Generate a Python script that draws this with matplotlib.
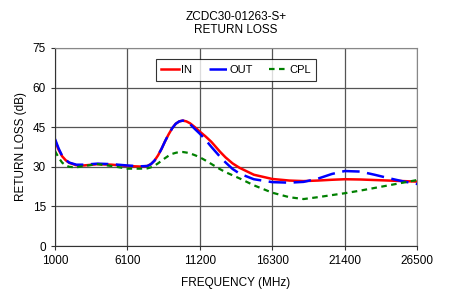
import matplotlib
matplotlib.use("Agg")
import matplotlib.pyplot as plt

plt.rcParams['font.family'] = ['Liberation Sans', 'DejaVu Sans']

# frequency points (MHz)
freq = [1000, 1250, 1500, 1750, 2000, 2500, 3000, 4000, 5000, 6100, 7000,
        7500, 7750, 8000, 8250, 8500, 8750, 9000, 9250, 9500, 9750, 10000,
        10250, 10500, 10850, 11200, 11600, 12000, 12620, 13000, 13500,
        14000, 15000, 16300, 17500, 18500, 19500, 20500, 21400, 22500,
        23500, 24500, 25500, 26500]

rl_in = [40, 36.5, 34, 32.5, 31.5, 30.6, 30.5, 31, 30.8, 30.3, 30.1,
         30.3, 31, 32.3, 34.3, 36.8, 39.7, 42.3, 44.6, 46.3, 47.2, 47.5,
         47.2, 46.5, 45, 43.3, 41.5, 39.5, 35.7, 33.6, 31.3,
         29.6, 27, 25.4, 24.8, 24.6, 24.8, 25.1, 25.3, 25.2,
         25, 24.8, 24.6, 24.4]

rl_out = [40.5, 37, 34.2, 32.6, 31.6, 30.8, 30.8, 31.2, 31, 30.5, 30.2,
          30.3, 31, 32.3, 34.3, 36.8, 39.7, 42.3, 44.6, 46.3, 47.2, 47.5,
          47.1, 46.2, 44.3, 42.5, 40.2, 37.6, 33.8, 31.7, 29.2,
          27.4, 25.3, 24.2, 24, 24.3, 25.5, 27.3, 28.4, 28.2,
          27, 25.7, 24.5, 23.5]

rl_cpl = [36, 33.5, 31.6, 30.5, 30, 29.8, 30.3, 31, 30.3, 29.3, 29.3,
          29.4, 29.8, 30.4, 31.3, 32.3, 33.3, 34.2, 34.9, 35.3, 35.6, 35.6,
          35.4, 35.1, 34.4, 33.6, 32.4, 31.1, 29.1, 28, 26.8,
          25.6, 23, 20.2, 18.5, 17.8, 18.5, 19.3, 20, 21,
          22, 23, 24, 25]

xticks = [1000, 6100, 11200, 16300, 21400, 26500]
yticks = [0, 15, 30, 45, 60, 75]

fig = plt.figure(figsize=(4.51, 2.94), dpi=100)
ax = fig.add_axes([0.122, 0.163, 0.803, 0.674])

ax.plot(freq, rl_in, color='red', lw=1.8, label='IN')
ax.plot(freq, rl_out, color='blue', lw=1.8, dashes=(7, 3), label='OUT')
ax.plot(freq, rl_cpl, color='green', lw=1.6, dashes=(2.5, 2), label='CPL')

ax.set_xlim(1000, 26500)
ax.set_ylim(0, 75)
ax.set_xticks(xticks)
ax.set_yticks(yticks)
ax.tick_params(labelsize=8.5, length=3, color='#333333')
ax.grid(True, color='#555555', lw=0.9)
ax.set_axisbelow(True)
for s in ax.spines.values():
    s.set_color('#888888')
ax.spines['left'].set_color('#333333')
ax.spines['bottom'].set_color('#333333')

ax.set_title('ZCDC30-01263-S+\nRETURN LOSS', fontsize=8.5, pad=11, linespacing=1.1)
ax.set_xlabel('FREQUENCY (MHz)', fontsize=8.5, labelpad=7)
ax.set_ylabel('RETURN LOSS (dB)', fontsize=8.5)

leg = ax.legend(loc='upper center', bbox_to_anchor=(0.5, 0.97), ncol=3,
                fontsize=8, frameon=True, fancybox=False, edgecolor='black',
                handlelength=1.6, handletextpad=0.2, columnspacing=1.5,
                borderpad=0.5)
leg.get_frame().set_linewidth(0.8)

fig.savefig('out.png', dpi=100)
